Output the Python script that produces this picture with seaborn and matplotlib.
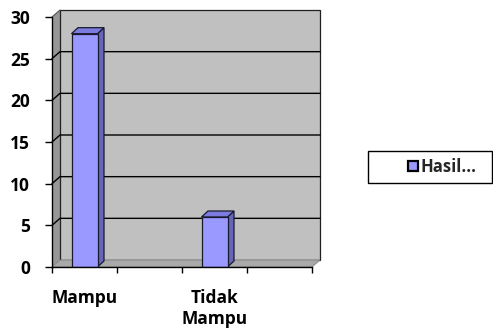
import numpy as np
import pandas as pd
import matplotlib
matplotlib.use("Agg")
import matplotlib.pyplot as plt
from matplotlib.patches import Polygon, Rectangle
from matplotlib.lines import Line2D
import seaborn as sns

# data
categories = ["Mampu", "Kosong1", "Tidak\nMampu", "Kosong2"]
tick_labels = ["Mampu", "", "Tidak\nMampu", ""]
values = [28, np.nan, 6, np.nan]
series_name = "Hasil..."
y_ticks = [0, 5, 10, 15, 20, 25, 30]

df = pd.DataFrame({"kategori": categories, "nilai": values})

sns.set_theme(style="white")
plt.rcParams["font.family"] = ["Open Sans", "DejaVu Sans"]
plt.rcParams["font.weight"] = "bold"

W, H = 493, 331
fig = plt.figure(figsize=(W / 100, H / 100), dpi=100)
fig.patch.set_facecolor("white")

# plot box in pixels: x 52..312, y(0)=267, y(30)=17
ax = fig.add_axes([52 / W, (H - 267) / H, 260 / W, 250 / H])
ax.set_facecolor("none")

sns.barplot(data=df, x="kategori", y="nilai", color="#9999FF", width=0.4,
            edgecolor="#1a1a2e", linewidth=0.9, saturation=1, ax=ax, zorder=5)

ax.set_xlim(-0.5, 3.5)
ax.set_ylim(0, 30)

px_x = 4 / 260.0          # data units per pixel, x
px_y = 30 / 250.0         # data units per pixel, y
wdx, wdy = 8 * px_x, 7 * px_y     # wall depth
bdx, bdy = 6.5 * px_x, 6 * px_y   # bar depth

x0, x1 = -0.5, 3.5
# left side wall
ax.add_patch(Polygon([(x0, 0), (x0, 30), (x0 + wdx, 30 + wdy), (x0 + wdx, wdy)],
                     closed=True, facecolor="#979797", edgecolor="none",
                     zorder=0, clip_on=False))
# back wall
ax.add_patch(Polygon([(x0 + wdx, wdy), (x0 + wdx, 30 + wdy), (x1 + wdx, 30 + wdy), (x1 + wdx, wdy)],
                     closed=True, facecolor="#C0C0C0", edgecolor="#202020",
                     linewidth=0.9, zorder=0, clip_on=False))
# floor
ax.add_patch(Polygon([(x0, 0), (x1, 0), (x1 + wdx, wdy), (x0 + wdx, wdy)],
                     closed=True, facecolor="#A9A9A9", edgecolor="#808080",
                     linewidth=0.6, zorder=1, clip_on=False))

# gridlines on side wall and back wall
for v in y_ticks[1:-1]:
    ax.add_line(Line2D([x0, x0 + wdx, x1 + wdx], [v, v + wdy, v + wdy],
                       color="black", linewidth=1.0, zorder=2, clip_on=False))
ax.add_line(Line2D([x0, x0 + wdx], [30, 30 + wdy], color="#505050",
                   linewidth=0.8, zorder=2, clip_on=False))

# side and top faces of the bars
for p in ax.patches:
    if not isinstance(p, Rectangle):
        continue
    h = p.get_height()
    if not np.isfinite(h) or h <= 0:
        continue
    bx, bw = p.get_x(), p.get_width()
    ax.add_patch(Polygon([(bx + bw, 0), (bx + bw + bdx, bdy), (bx + bw + bdx, h + bdy), (bx + bw, h)],
                         closed=True, facecolor="#6666B8", edgecolor="#1a1a2e",
                         linewidth=0.9, zorder=4, clip_on=False))
    ax.add_patch(Polygon([(bx, h), (bx + bw, h), (bx + bw + bdx, h + bdy), (bx + bdx, h + bdy)],
                         closed=True, facecolor="#7B7BE0", edgecolor="#1a1a2e",
                         linewidth=0.9, zorder=4, clip_on=False))

# axes
for s in ["top", "right"]:
    ax.spines[s].set_visible(False)
for s in ["left", "bottom"]:
    ax.spines[s].set_color("black")
    ax.spines[s].set_linewidth(1.0)
    ax.spines[s].set_zorder(6)

ax.set_yticks(y_ticks)
ax.set_yticklabels([str(t) for t in y_ticks])
ax.tick_params(axis="y", length=5, width=1, color="black", direction="out",
               pad=11, labelsize=12.5, left=True)
ax.set_xticks(range(len(categories)))
ax.set_xticklabels(tick_labels, linespacing=1.2, multialignment="center")
ax.tick_params(axis="x", which="major", length=0, pad=16, labelsize=12.5)
ax.set_xticks([-0.5, 0.5, 1.5, 2.5, 3.5], minor=True)
ax.tick_params(axis="x", which="minor", length=4, width=1, color="black",
               direction="out", bottom=True)
for lbl in ax.get_xticklabels() + ax.get_yticklabels():
    lbl.set_fontweight("bold")
    lbl.set_color("black")
ax.set_xlabel("")
ax.set_ylabel("")

# legend box
fig.patches.append(Rectangle((368 / W, 1 - 183 / H), 124 / W, 32 / H,
                             transform=fig.transFigure, facecolor="white",
                             edgecolor="black", linewidth=1.0))
handle = Rectangle((0, 0), 1, 1, facecolor="#9999FF", edgecolor="black", linewidth=1.6)
fig.legend([handle], [series_name], loc="center", bbox_to_anchor=(442 / W, 1 - 167 / H),
           frameon=False, handlelength=0.6, handleheight=0.6, handletextpad=0.15,
           prop={"weight": "bold", "size": 12})

fig.savefig("out.png", dpi=100)
